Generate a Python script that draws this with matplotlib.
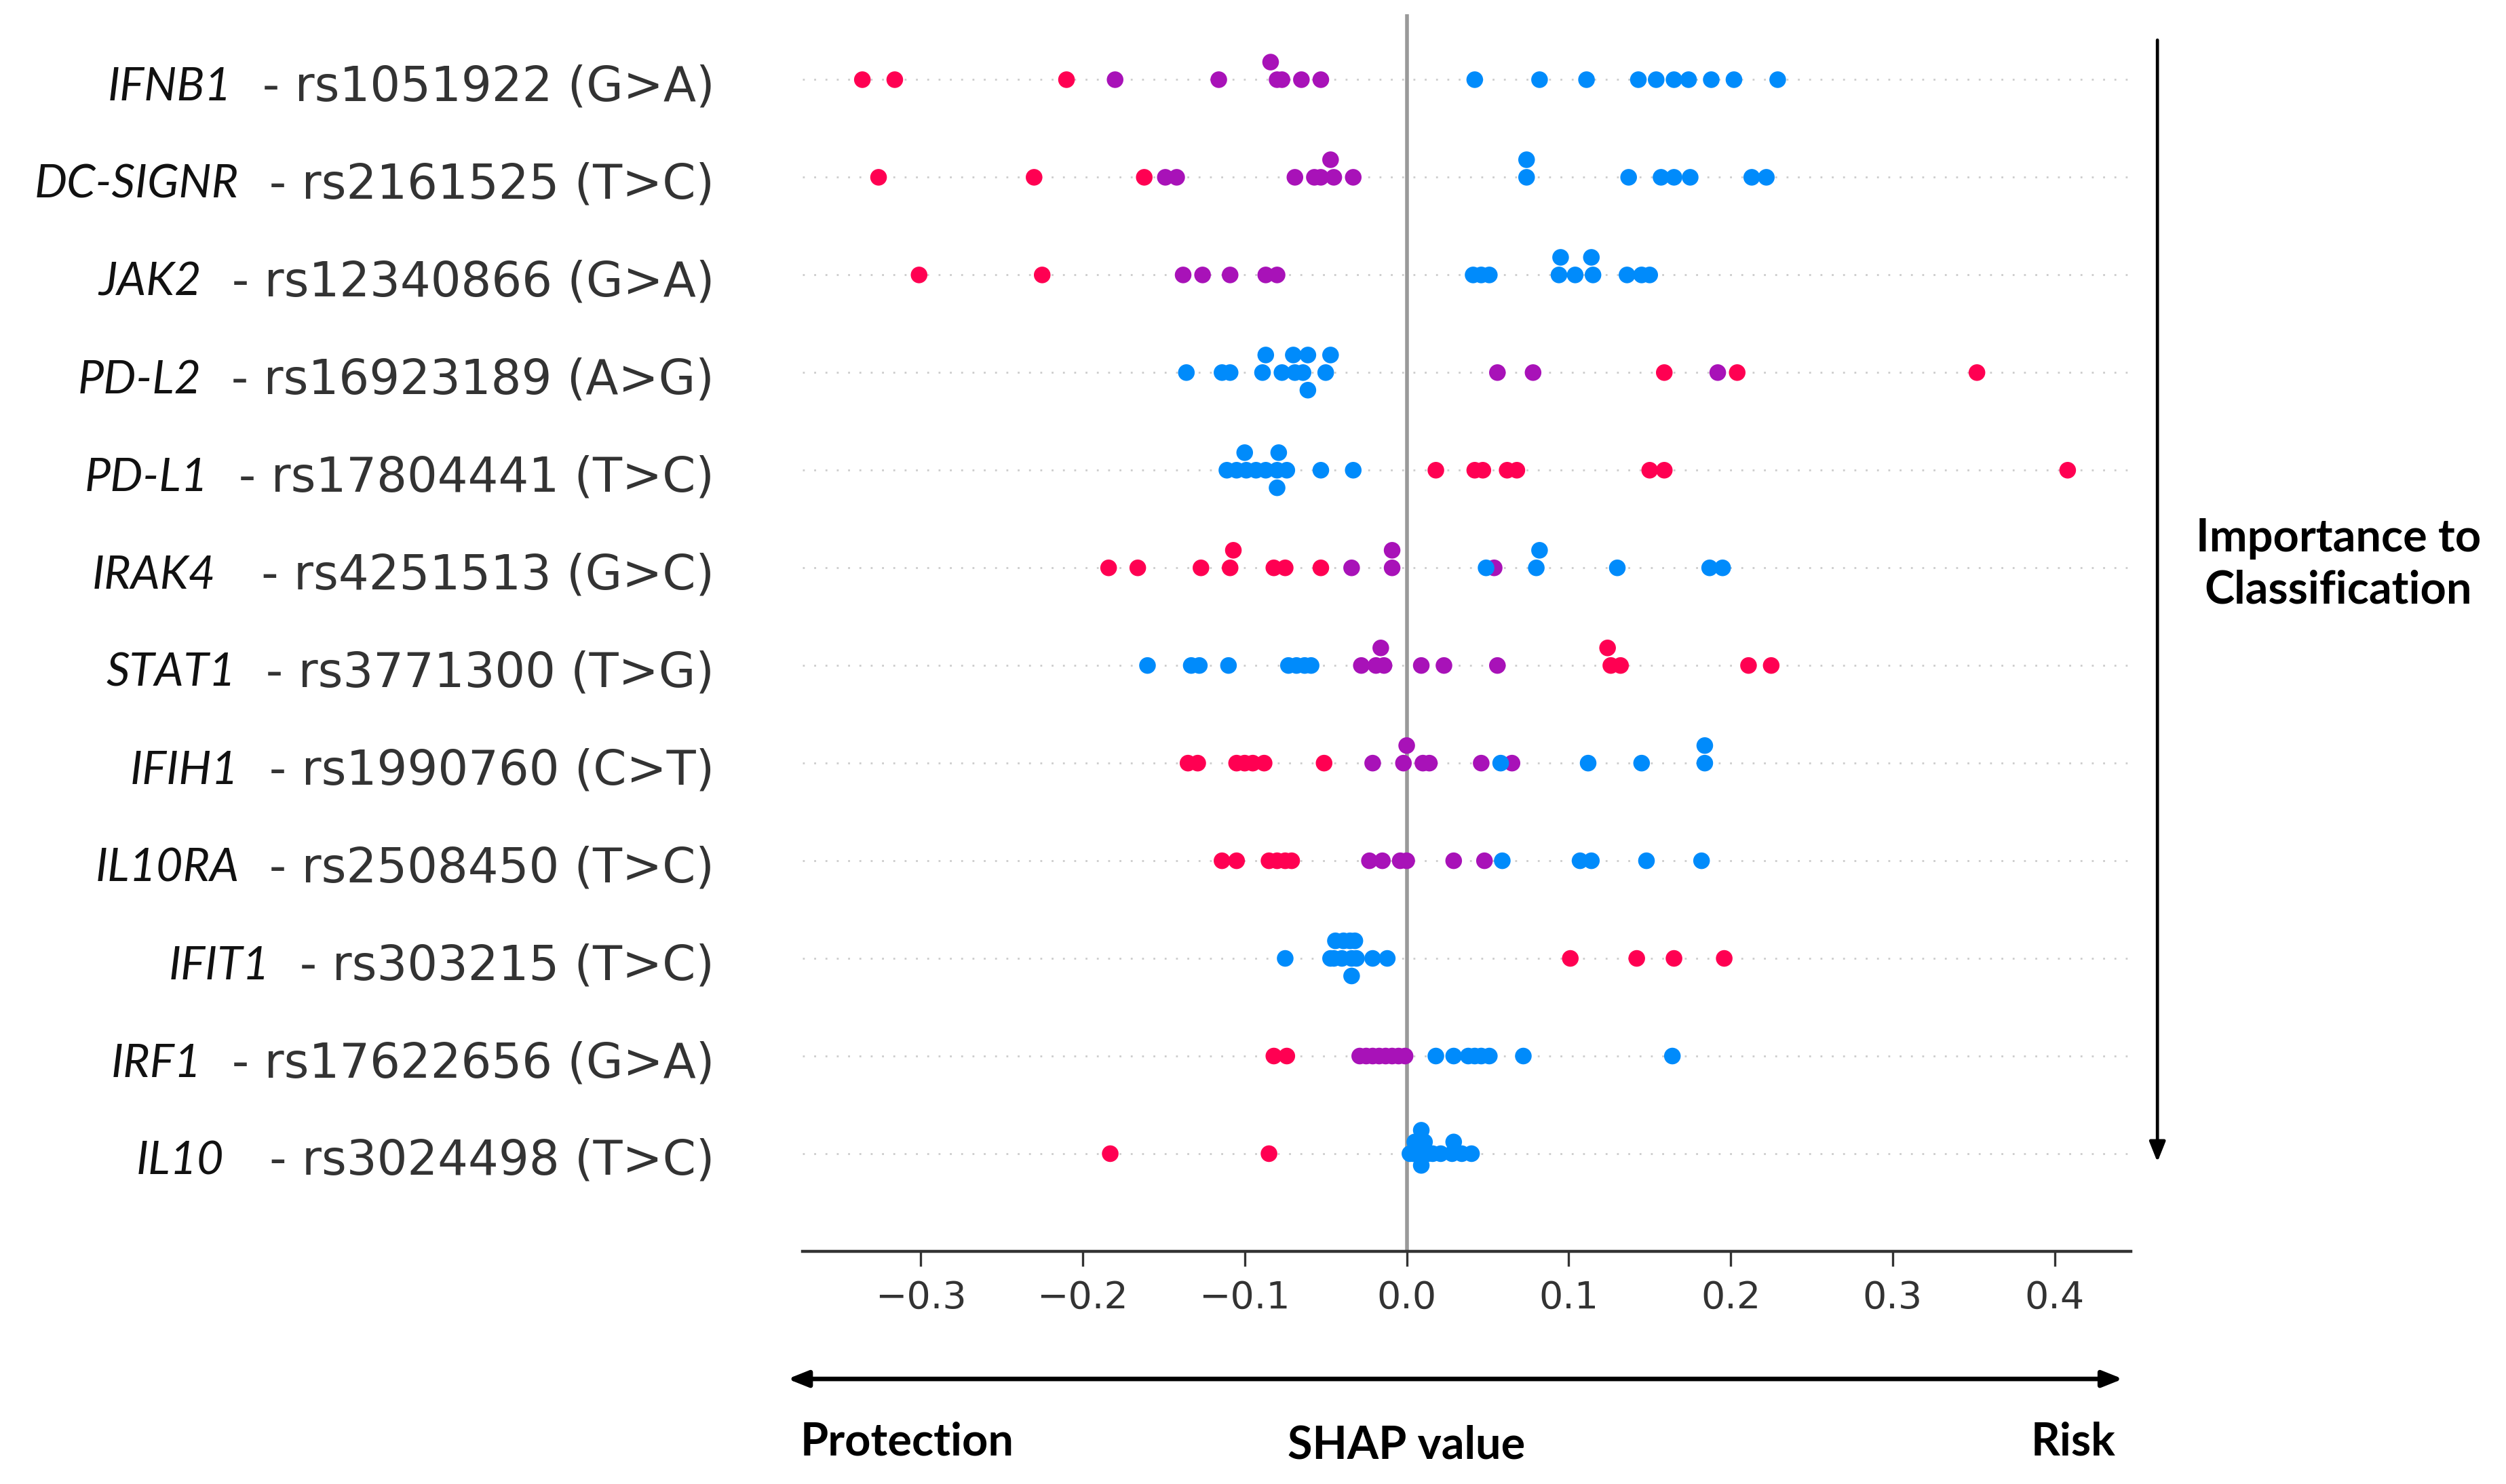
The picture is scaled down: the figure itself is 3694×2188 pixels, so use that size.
import numpy as np
import matplotlib
matplotlib.use("Agg")
import matplotlib.pyplot as plt
import matplotlib.transforms as mtransforms

# filas de arriba a abajo
genes = ['IFNB1', 'DC-SIGNR', 'JAK2', 'PD-L2', 'PD-L1', 'IRAK4',
         'STAT1', 'IFIH1', 'IL10RA', 'IFIT1', 'IRF1', 'IL10']
snps = ['  - rs1051922 (G>A)', '  - rs2161525 (T>C)', '  - rs12340866 (G>A)',
        '  - rs16923189 (A>G)', '  - rs17804441 (T>C)', '   - rs4251513 (G>C)',
        '  - rs3771300 (T>G)', '  - rs1990760 (C>T)', '  - rs2508450 (T>C)',
        '  - rs303215 (T>C)', '  - rs17622656 (G>A)', '   - rs3024498 (T>C)']

# valores SHAP por genotipo (rojo / morado / azul)
ifnb1_red = [-0.336, -0.316, -0.210]
ifnb1_purple = [-0.180, -0.116, -0.080, -0.084, -0.077, -0.065, -0.053]
ifnb1_blue = [0.042, 0.082, 0.111, 0.143, 0.154, 0.165, 0.174, 0.188, 0.202, 0.229]

dcsignr_red = [-0.326, -0.230, -0.162]
dcsignr_purple = [-0.149, -0.142, -0.069, -0.057, -0.053, -0.045, -0.047, -0.033]
dcsignr_blue = [0.074, 0.074, 0.137, 0.157, 0.165, 0.175, 0.213, 0.222]

jak2_red = [-0.301, -0.225]
jak2_purple = [-0.138, -0.126, -0.109, -0.087, -0.080]
jak2_blue = [0.041, 0.046, 0.051, 0.094, 0.095, 0.104, 0.115, 0.114, 0.136, 0.145, 0.150]

pdl2_red = [0.159, 0.204, 0.352]
pdl2_purple = [0.056, 0.078, 0.192]
pdl2_blue = [-0.136, -0.114, -0.109, -0.089, -0.087, -0.077, -0.069, -0.070,
             -0.064, -0.061, -0.061, -0.050, -0.047]

pdl1_red = [0.018, 0.042, 0.047, 0.062, 0.068, 0.150, 0.159, 0.408]
pdl1_purple = []
pdl1_blue = [-0.111, -0.105, -0.099, -0.100, -0.093, -0.087, -0.080, -0.079,
             -0.080, -0.074, -0.053, -0.033]

irak4_red = [-0.184, -0.166, -0.127, -0.109, -0.107, -0.082, -0.075, -0.053]
irak4_purple = [-0.034, -0.009, -0.009, 0.054]
irak4_blue = [0.049, 0.080, 0.082, 0.130, 0.187, 0.195]

stat1_red = [0.126, 0.124, 0.132, 0.211, 0.225]
stat1_purple = [-0.028, -0.019, -0.016, -0.014, 0.009, 0.023, 0.056]
stat1_blue = [-0.160, -0.133, -0.128, -0.110, -0.073, -0.068, -0.063, -0.059]

ifih1_red = [-0.135, -0.129, -0.105, -0.100, -0.095, -0.088, -0.051]
ifih1_purple = [-0.021, -0.002, 0.000, 0.010, 0.014, 0.046, 0.065]
ifih1_blue = [0.058, 0.112, 0.145, 0.184, 0.184]

il10ra_red = [-0.114, -0.105, -0.085, -0.080, -0.075, -0.071]
il10ra_purple = [-0.023, -0.015, -0.004, 0.000, 0.029, 0.048]
il10ra_blue = [0.059, 0.107, 0.114, 0.148, 0.182]

ifit1_red = [0.101, 0.142, 0.165, 0.196]
ifit1_purple = []
ifit1_blue = [-0.075, -0.047, -0.045, -0.044, -0.040, -0.039, -0.034, -0.035,
              -0.034, -0.031, -0.032, -0.021, -0.012]

irf1_red = [-0.082, -0.074]
irf1_purple = [-0.029, -0.025, -0.021, -0.017, -0.013, -0.009, -0.005, -0.001]
irf1_blue = [0.018, 0.029, 0.038, 0.042, 0.046, 0.051, 0.072, 0.164]

il10_red = [-0.183, -0.085]
il10_purple = []
il10_blue = [0.002, 0.004, 0.005, 0.008, 0.009, 0.009, 0.009, 0.010, 0.011,
             0.013, 0.016, 0.021, 0.028, 0.029, 0.034, 0.040]

xticks = [-0.3, -0.2, -0.1, 0.0, 0.1, 0.2, 0.3, 0.4]

filas = [
    (ifnb1_red, ifnb1_purple, ifnb1_blue),
    (dcsignr_red, dcsignr_purple, dcsignr_blue),
    (jak2_red, jak2_purple, jak2_blue),
    (pdl2_red, pdl2_purple, pdl2_blue),
    (pdl1_red, pdl1_purple, pdl1_blue),
    (irak4_red, irak4_purple, irak4_blue),
    (stat1_red, stat1_purple, stat1_blue),
    (ifih1_red, ifih1_purple, ifih1_blue),
    (il10ra_red, il10ra_purple, il10ra_blue),
    (ifit1_red, ifit1_purple, ifit1_blue),
    (irf1_red, irf1_purple, irf1_blue),
    (il10_red, il10_purple, il10_blue),
]

RED, PURPLE, BLUE = '#ff0052', '#a812b8', '#008bfb'


def beeswarm(vals, row_height=0.4, nbins=100):
    # mismo esquema de capas que shap.summary_plot
    vals = np.asarray(vals, dtype=float)
    quant = np.round(nbins * (vals - vals.min()) / (vals.max() - vals.min() + 1e-8))
    orden = np.argsort(quant, kind='stable')
    ys = np.zeros(len(vals))
    layer = 0
    last_bin = -1
    for ind in orden:
        if quant[ind] != last_bin:
            layer = 0
        ys[ind] = np.ceil(layer / 2) * ((layer % 2) * 2 - 1)
        layer += 1
        last_bin = quant[ind]
    ys *= 0.9 * (row_height / np.max(ys + 1))
    return ys


fig = plt.figure(figsize=(3694 / 200, 2188 / 200), dpi=200)
ax = fig.add_axes([0.3202, 0.1568, 0.5301, 0.8336])

n = len(genes)
for i, (rojo, morado, azul) in enumerate(filas):
    pos = n - 1 - i
    vals = list(rojo) + list(morado) + list(azul)
    cols = [RED] * len(rojo) + [PURPLE] * len(morado) + [BLUE] * len(azul)
    ax.axhline(pos, color='#cccccc', lw=1.0, dashes=(1, 5), zorder=-1)
    ys = beeswarm(vals)
    ax.scatter(vals, pos + ys, s=78, c=cols, linewidth=0, zorder=3)

ax.axvline(0, color='#999999', lw=2.0, zorder=-1)

ax.set_xlim(-0.373, 0.447)
ax.set_ylim(-1, 11.67)
ax.set_xticks(xticks)
ax.set_yticks([])
for s in ['top', 'right', 'left']:
    ax.spines[s].set_visible(False)
ax.spines['bottom'].set_color('#333333')
ax.spines['bottom'].set_linewidth(1.6)
ax.tick_params(axis='x', length=8, width=1.2, color='#333333',
               labelcolor='#333333', labelsize=20, pad=7)

# etiquetas de las filas: gen en cursiva + SNP
trans = mtransforms.blended_transform_factory(fig.transFigure, ax.transData)
desplaz = 0.08  # las etiquetas quedan un poco por debajo de la fila
rs_texts = []
for i, snp in enumerate(snps):
    t = ax.text(0.2851, n - 1 - i - desplaz, snp, transform=trans, ha='right',
                va='center', fontsize=25.4, color='#333333', family='DejaVu Sans')
    rs_texts.append(t)

fig.canvas.draw()
renderer = fig.canvas.get_renderer()
for i, (gene, t) in enumerate(zip(genes, rs_texts)):
    bb = t.get_window_extent(renderer)
    x0 = bb.x0 / fig.bbox.width
    ax.text(x0, n - 1 - i - desplaz, gene, transform=trans, ha='right', va='center',
            fontsize=24.5, style='italic', color='#111111',
            family=['Lato', 'Open Sans', 'DejaVu Sans'])

# flechas y rotulos
ax.annotate('', xy=(0.8609, 0.217), xytext=(0.8609, 0.973),
            xycoords='figure fraction', textcoords='figure fraction',
            annotation_clip=False,
            arrowprops=dict(arrowstyle='-|>,head_length=0.45,head_width=0.18',
                            mutation_scale=20, lw=1.7, color='black',
                            shrinkA=0, shrinkB=0))
ax.annotate('', xy=(0.8471, 0.0708), xytext=(0.3143, 0.0708),
            xycoords='figure fraction', textcoords='figure fraction',
            annotation_clip=False,
            arrowprops=dict(arrowstyle='<|-|>,head_length=0.45,head_width=0.18',
                            mutation_scale=20, lw=2.4, color='black',
                            shrinkA=0, shrinkB=0))

bold = dict(fontsize=24, fontweight='bold', color='black',
            family=['Lato', 'Open Sans', 'DejaVu Sans'])
fig.text(0.3194, 0.0283, 'Protection', ha='left', va='center', **bold)
fig.text(0.5612, 0.0256, 'SHAP value', ha='center', va='center', **bold)
fig.text(0.8443, 0.0280, 'Risk', ha='right', va='center', **bold)
fig.text(0.9331, 0.6197, 'Importance to\nClassification', ha='center',
         va='center', linespacing=1.3, **bold)

fig.savefig('out.png', dpi=200)
